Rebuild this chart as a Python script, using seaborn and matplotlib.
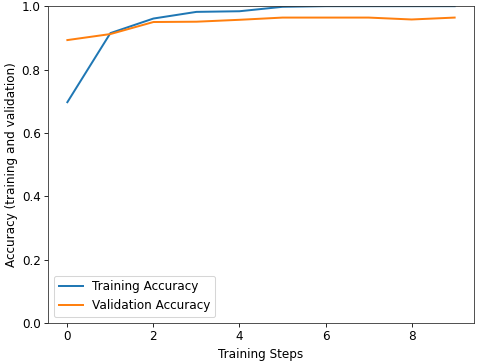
import matplotlib
matplotlib.use("Agg")
import matplotlib.pyplot as plt
import seaborn as sns
import pandas as pd

# accuracy per epoch
steps = list(range(10))
train_acc = [0.697, 0.915, 0.961, 0.982, 0.984, 0.998, 1.0, 1.0, 1.0, 1.0]
val_acc = [0.893, 0.912, 0.950, 0.951, 0.957, 0.964, 0.964, 0.964, 0.958, 0.964]

df = pd.DataFrame({
    "step": steps * 2,
    "acc": train_acc + val_acc,
    "series": ["Training Accuracy"] * 10 + ["Validation Accuracy"] * 10,
})

plt.rcParams["font.family"] = ["DejaVu Sans"]
plt.rcParams["font.size"] = 11.5
fig, ax = plt.subplots(figsize=(6.4, 4.84), dpi=75)
sns.lineplot(data=df, x="step", y="acc", hue="series",
             palette=["#1f77b4", "#ff7f0e"], ax=ax, linewidth=1.9)
ax.set_ylim(0, 1.0)
ax.set_xlabel("Training Steps")
ax.set_ylabel("Accuracy (training and validation)")
ax.legend(loc="lower left", title=None)
for s in ax.spines.values():
    s.set_color("#333333")
fig.subplots_adjust(left=0.1, right=0.9875, top=0.983, bottom=0.11)
fig.savefig("out.png", dpi=75)
